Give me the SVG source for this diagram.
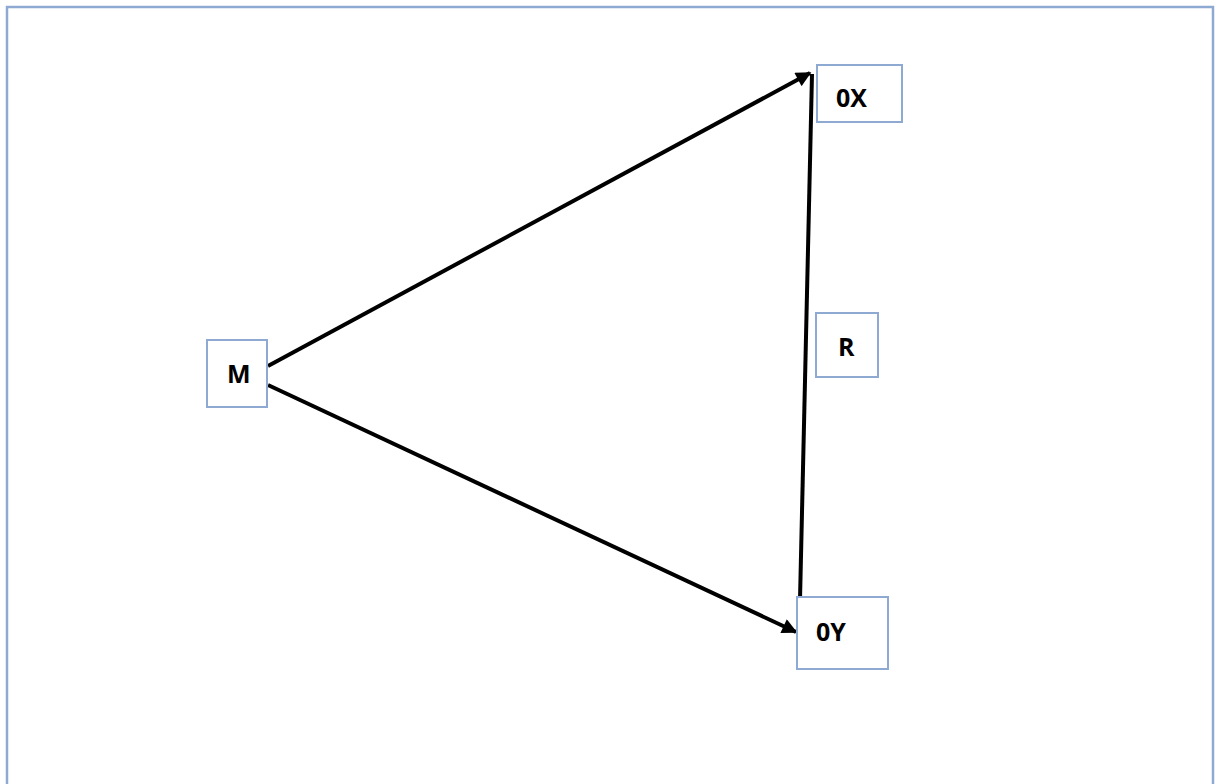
<svg xmlns="http://www.w3.org/2000/svg" width="1219" height="784" viewBox="0 0 1219 784">
<style>
.box{fill:#fff;stroke:#8eaad3;stroke-width:2}
.lbl{font-family:"Open Sans","Liberation Sans",sans-serif;font-weight:bold;font-size:25px;fill:#000}
.ln{stroke:#000;stroke-width:4;fill:none}
</style>
<defs>
<marker id="ah" viewBox="0 0 10 10" refX="9" refY="5" markerWidth="4" markerHeight="3.8" markerUnits="strokeWidth" orient="auto">
<path d="M0,0 L10,5 L0,10 Z" fill="#000"/>
</marker>
</defs>
<path d="M7,784 V7 H1213 V784" fill="none" stroke="#8eaad3" stroke-width="2.5"/>
<g id="connectors">
<line class="ln" x1="268" y1="366" x2="810" y2="73" marker-end="url(#ah)"/>
<line class="ln" x1="268" y1="385" x2="796" y2="632" marker-end="url(#ah)"/>
<line class="ln" x1="812" y1="74" x2="800" y2="600"/>
</g>
<g id="node-M"><rect class="box" x="207" y="340" width="60" height="67"/><text class="lbl" x="227" y="383">M</text></g>
<g id="node-0X"><rect class="box" x="817" y="65" width="85" height="57"/><text class="lbl" x="836" y="107">0X</text></g>
<g id="node-0Y"><rect class="box" x="797" y="597" width="91" height="72"/><text class="lbl" x="816" y="641">0Y</text></g>
<g id="node-R"><rect class="box" x="816" y="313" width="62" height="64"/><text class="lbl" x="838" y="356">R</text></g>
</svg>
